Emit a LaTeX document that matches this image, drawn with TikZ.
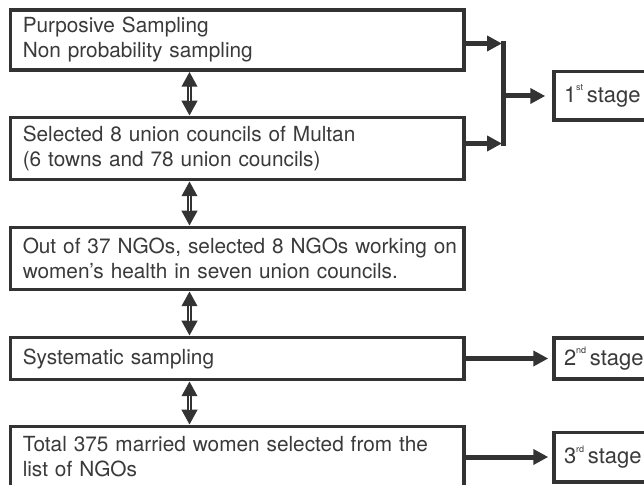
\documentclass[tikz,border=0pt]{standalone}
\usepackage{fontspec}
\setmainfont{TeX Gyre Heros}
\usepackage{xcolor}
\usepackage{tikz}
\usetikzlibrary{arrows.meta,positioning,calc}
\definecolor{inkgray}{HTML}{333333}
\definecolor{textgray}{HTML}{3A3A3A}
\newcommand{\stagesup}[1]{\raisebox{1ex}{\fontsize{9}{9}\selectfont #1}\,}
\tikzset{
  stepbox/.style={draw=inkgray, line width=3.5pt, fill=white, text=textgray, align=left, font=\fontsize{20.8}{25}\selectfont, text width=429pt, inner xsep=12.25pt, inner ysep=0pt},
  stagebox/.style={draw=inkgray, line width=3.5pt, fill=white, text=textgray, align=left, font=\fontsize{22}{25}\selectfont, minimum width=100pt, text width=80pt, inner xsep=10pt, inner ysep=0pt},
  fatarrow/.style={-{Triangle[length=15pt, width=15pt]}, line width=5pt, draw=inkgray},
  busline/.style={line width=5pt, draw=inkgray, line cap=rect},
  dblarrow/.style={{Triangle[length=15pt, width=15pt]}-{Triangle[length=15pt, width=15pt]}, line width=5pt, draw=inkgray},
  corelight/.style={draw=white, line width=1pt, shorten <=15pt, shorten >=15pt}
}
\begin{document}
\begin{tikzpicture}[x=1pt, y=1pt, node distance=44pt and 86.5pt]
  \useasboundingbox (0,0) rectangle (644,484);
  \clip (0,0) rectangle (644,484);
  % main column
  \node[stepbox, minimum height=60pt] (box1) at (237.25,444) {Purposive Sampling\\Non probability sampling};
  \node[stepbox, minimum height=62pt, below=of box1] (box2) {Selected 8 union councils of Multan\\(6 towns and 78 union councils)};
  \node[stepbox, minimum height=62pt, below=44.5pt of box2] (box3) {\mbox{Out of 37 NGOs, selected 8 NGOs working on}\\women's health in seven union councils.};
  \node[stepbox, minimum height=42pt, below=44.5pt of box3] (box4) {Systematic sampling};
  \node[stepbox, minimum height=61pt, below=43.5pt of box4] (box5) {\mbox{Total 375 married women selected from the}\\list of NGOs};
  % stages
  \node[stagebox, minimum height=48.5pt, anchor=west] (stage1) at (552.25,388) {1\stagesup{st}stage};
  \node[stagebox, minimum height=41pt, right=of box4] (stage2) {2\stagesup{nd}stage};
  \node[stagebox, minimum height=49.5pt, right=of box5] (stage3) {3\stagesup{rd}stage};
  % double arrows between steps
  \coordinate (axis) at (189.5,0);
  \foreach \a/\b in {box1/box2, box2/box3, box3/box4, box4/box5} {
    \draw[dblarrow] (\a.south -| axis) -- (\b.north -| axis);
    \draw[corelight] (\a.south -| axis) -- (\b.north -| axis);
  }
  % bracket to first stage
  \coordinate (bus) at (503,0);
  \coordinate (in1) at ([yshift=-3.5pt]box1.east);
  \coordinate (in2) at ([yshift=5pt]box2.east);
  \draw[fatarrow, shorten >=1pt] (in1) -- (in1 -| bus);
  \draw[fatarrow, shorten >=1pt] (in2) -- (in2 -| bus);
  \draw[busline] (in1 -| bus) -- (in2 -| bus);
  \draw[fatarrow] (bus |- stage1.west) -- ([xshift=-7pt]stage1.west);
  % later stages
  \draw[fatarrow] (box4.east) -- ([xshift=-4pt]stage2.west);
  \draw[fatarrow] (box5.east) -- ([xshift=-4pt]stage3.west);
\end{tikzpicture}
\end{document}
